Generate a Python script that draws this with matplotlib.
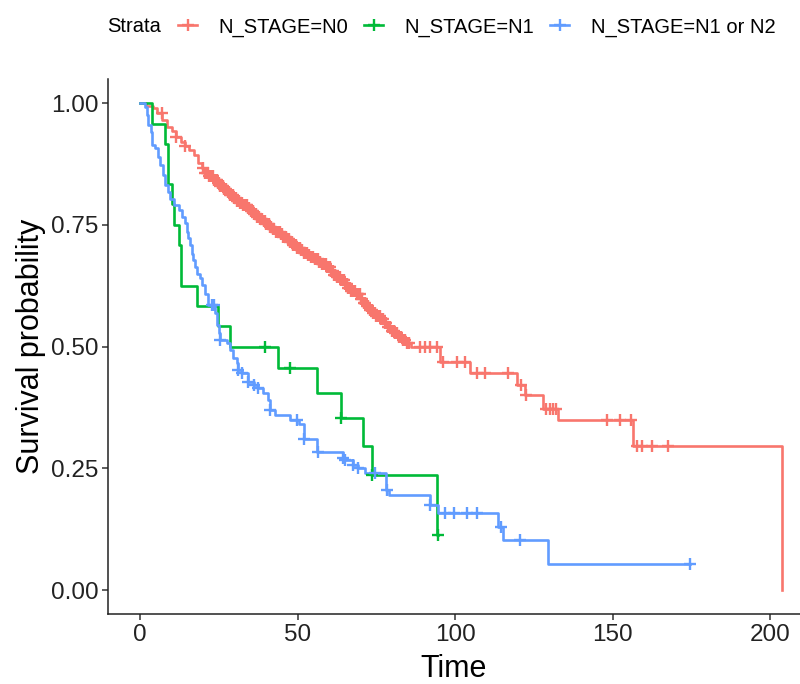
import numpy as np
import matplotlib
matplotlib.use("Agg")
import matplotlib.pyplot as plt
from matplotlib.lines import Line2D

plt.rcParams['font.family'] = ['Liberation Sans', 'DejaVu Sans']

# ---------------- data ----------------
strata = ["N_STAGE=N0", "N_STAGE=N1", "N_STAGE=N1 or N2"]
colors = ["#F8766D", "#00BA38", "#619CFF"]

n0_time = [0, 2, 4, 5.5, 7, 8.5, 10, 11.5, 13, 14.3, 15.5, 17, 18.5, 19.5, 20.6,
           22, 23.5, 24.5, 25.5, 26.5, 27.5, 28.6, 29.5, 30.5, 31.5, 32.5, 34, 35,
           36, 37, 38, 39, 40, 41, 42, 43, 44.4, 45.5, 46.5, 47.5, 48.5, 49.7, 51,
           52, 53, 54, 55.5, 56.5, 57.5, 59, 60.5, 61.5, 62.5, 63.5, 65, 66, 67,
           68.5, 70, 71, 72, 73, 74, 75, 76.5, 77.5, 78.5, 79.5, 81, 82, 83, 84.5,
           86, 95.2, 104.8, 119.6, 122.2, 128, 132.8, 156.6, 203.7]
n0_surv = [1.0, 0.995, 0.99, 0.98, 0.965, 0.951, 0.942, 0.931, 0.92, 0.912, 0.903,
           0.893, 0.878, 0.867, 0.856, 0.85, 0.843, 0.836, 0.83, 0.824, 0.818,
           0.812, 0.806, 0.80, 0.795, 0.79, 0.785, 0.778, 0.772, 0.767, 0.762,
           0.757, 0.752, 0.746, 0.741, 0.736, 0.731, 0.725, 0.72, 0.714, 0.709,
           0.703, 0.698, 0.693, 0.688, 0.684, 0.679, 0.674, 0.669, 0.664, 0.655,
           0.648, 0.642, 0.636, 0.628, 0.62, 0.614, 0.608, 0.598, 0.59, 0.583,
           0.575, 0.568, 0.562, 0.556, 0.548, 0.54, 0.533, 0.527, 0.52, 0.514,
           0.507, 0.5, 0.469, 0.445, 0.422, 0.40, 0.371, 0.349, 0.296, 0.0]
n0_censor = [6.9, 11.5, 14.3, 20.1, 20.7, 21.2, 21.6, 22.0, 22.4, 22.8, 23.2, 23.6,
             24.0, 24.3, 24.7, 25.1, 25.5, 25.9, 26.2, 26.6, 27.0, 27.4, 27.9, 28.3,
             28.6, 29.0, 29.4, 29.8, 30.3, 30.7, 31.0, 31.4, 31.8, 32.2, 32.7, 33.1,
             33.5, 33.9, 34.3, 34.6, 35.1, 35.5, 35.9, 36.3, 36.7, 37.1, 37.6, 38.0,
             38.4, 38.8, 39.2, 39.6, 40.1, 40.5, 40.9, 41.3, 41.7, 42.1, 42.6, 43.0,
             43.4, 43.8, 44.3, 44.7, 45.1, 45.5, 46.0, 46.4, 46.8, 47.2, 47.7, 48.1,
             48.6, 49.0, 49.4, 49.8, 50.3, 50.7, 51.1, 51.5, 52.0, 52.4, 52.9, 53.3,
             53.7, 54.1, 54.6, 55.0, 55.5, 55.9, 56.4, 56.8, 57.2, 57.6, 58.1, 58.5,
             58.9, 59.3, 59.8, 60.2, 60.7, 61.1, 61.6, 62.0, 62.5, 62.9, 63.4, 63.8,
             64.3, 64.7, 65.2, 65.6, 66.1, 66.5, 67.0, 67.4, 67.9, 68.3, 68.8, 69.2,
             69.7, 70.1, 70.6, 71.0, 71.5, 72.0, 72.5, 73.0, 73.5, 74.0, 74.5, 75.0,
             75.6, 76.0, 76.6, 77.2, 77.7, 78.2, 78.8, 79.3, 79.9, 80.5, 81.0, 81.6,
             82.2, 82.8, 83.4, 84.0, 84.6, 85.3, 88.9, 90.5, 92.1, 94.2, 96.3, 100.5,
             103.2, 106.9, 109.5, 116.9, 121.0, 122.5, 128.9, 130.0, 131.0, 132.0,
             148.1, 152.5, 156.0, 157.7, 159.3, 162.4, 167.7]

n1_time = [0, 3.8, 7.9, 9.0, 10.0, 10.7, 12.2, 13.0, 18.0, 24.7, 28.6, 43.9, 56.3,
           63.7, 70.7, 73.5, 94.3, 94.5]
n1_surv = [1.0, 0.958, 0.917, 0.833, 0.792, 0.750, 0.708, 0.625, 0.583, 0.542, 0.500,
           0.455, 0.404, 0.354, 0.295, 0.236, 0.113, 0.113]
n1_censor = [39.7, 47.6, 63.7, 73.5, 94.5]

n12_time = [0, 1.6, 2.1, 2.6, 3.4, 3.7, 4.8, 5.8, 6.3, 7.4, 7.9, 8.7, 9.5, 10.6, 12.2,
            13.2, 14.3, 14.8, 15.3, 15.9, 16.4, 16.9, 17.5, 18.0, 19.0, 19.6, 20.6,
            21.7, 23.8, 24.3, 24.9, 25.4, 27.5, 28.6, 29.6, 30.7, 31.2, 32.3, 34.4,
            36.0, 37.5, 39.1, 40.7, 41.3, 42.9, 47.5, 50.5, 51.9, 56.0, 64.3, 65.1,
            67.5, 69.3, 71.5, 78.0, 79.0, 92.0, 94.6, 113.5, 115.3, 129.6, 174.6]
n12_surv = [1.0, 0.993, 0.975, 0.955, 0.941, 0.914, 0.907, 0.890, 0.873, 0.852, 0.832,
            0.818, 0.804, 0.791, 0.780, 0.767, 0.753, 0.736, 0.722, 0.708, 0.691,
            0.678, 0.664, 0.650, 0.640, 0.626, 0.609, 0.585, 0.568, 0.544, 0.527,
            0.513, 0.507, 0.493, 0.476, 0.466, 0.452, 0.445, 0.428, 0.421, 0.414,
            0.404, 0.390, 0.370, 0.359, 0.349, 0.340, 0.311, 0.284, 0.272, 0.267,
            0.256, 0.250, 0.240, 0.205, 0.195, 0.175, 0.158, 0.130, 0.103, 0.053,
            0.053]
n12_censor = [22.8, 23.3, 25.4, 31.2, 32.3, 34.4, 36.0, 37.5, 41.3, 49.7, 51.9, 56.6,
              64.3, 65.1, 67.5, 69.3, 74.6, 78.3, 92.1, 96.8, 99.5, 103.7, 106.9,
              114.5, 120.6, 174.6]

x_ticks = [0, 50, 100, 150, 200]
y_ticks = [0.00, 0.25, 0.50, 0.75, 1.00]
y_ticklabels = ["0.00", "0.25", "0.50", "0.75", "1.00"]

# ---------------- figure ----------------
fig = plt.figure(figsize=(8.0, 6.84), dpi=100)
ax = fig.add_axes([0.135, 0.1018, 0.865, 0.783])

curves = [(n0_time, n0_surv, n0_censor),
          (n1_time, n1_surv, n1_censor),
          (n12_time, n12_surv, n12_censor)]

for (t, s, c), col in zip(curves, colors):
    t = np.asarray(t, float)
    s = np.asarray(s, float)
    ax.step(t, s, where='post', color=col, lw=1.9, zorder=2)
    c = np.asarray(c, float)
    idx = np.searchsorted(t, c, side='right') - 1
    ax.plot(c, s[idx], ls='none', marker='+', ms=9, mew=1.7, color=col, zorder=3)

ax.set_xlim(-10.2, 209.5)
ax.set_ylim(-0.05, 1.05)
ax.set_xticks(x_ticks)
ax.set_yticks(y_ticks)
ax.set_yticklabels(y_ticklabels)

for side in ['top', 'right']:
    ax.spines[side].set_visible(False)
for side in ['left', 'bottom']:
    ax.spines[side].set_linewidth(1.1)
    ax.spines[side].set_color('#222222')

ax.tick_params(axis='both', direction='out', length=4, width=1.1,
               color='#333333', labelsize=17.5, labelcolor='#222222', pad=3)
ax.set_xlabel("Time", fontsize=22, labelpad=6)
ax.set_ylabel("Survival probability", fontsize=22, labelpad=3)

# legend at top
fig.text(107 / 800, 1 - 27 / 684, "Strata", fontsize=14.5, va='center', ha='left')
handles = [Line2D([0], [0], color=col, lw=1.9, marker='+', ms=9, mew=1.7)
           for col in colors]
fig.legend(handles, strata, loc='center left', ncol=3, frameon=False,
           bbox_to_anchor=(178 / 800, 1 - 27 / 684), fontsize=14.5,
           handlelength=0.95, handletextpad=1.05, columnspacing=0.8,
           borderaxespad=0, borderpad=0)

fig.savefig("out.png", dpi=100)
